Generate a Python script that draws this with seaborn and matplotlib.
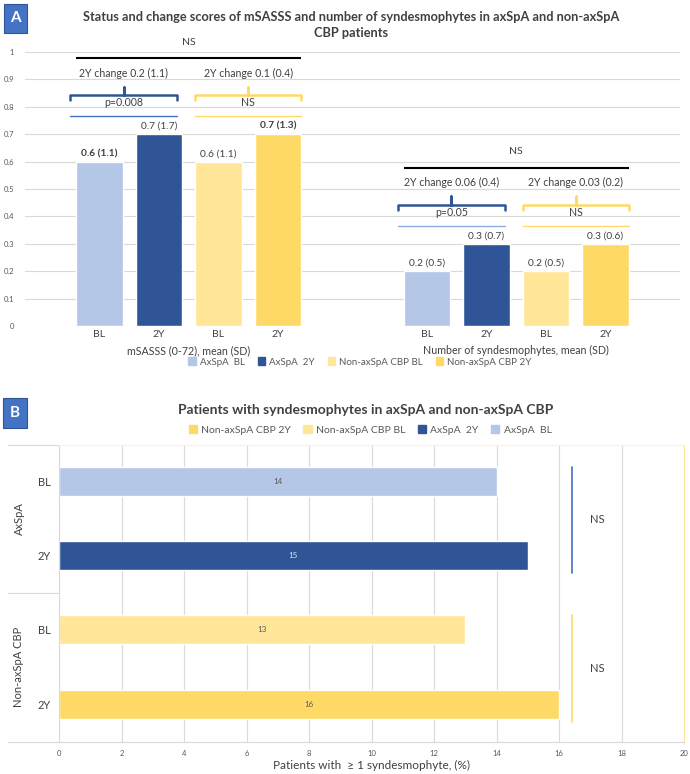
import numpy as np
import pandas as pd
import matplotlib
matplotlib.use("Agg")
import matplotlib.pyplot as plt
import matplotlib.transforms as mtransforms
from matplotlib.patches import Rectangle
from matplotlib.lines import Line2D
import seaborn as sns

# data
groups = ["AxSpA  BL", "AxSpA  2Y", "Non-axSpA CBP BL", "Non-axSpA CBP 2Y"]
colors = ["#B4C7E7", "#2F5597", "#FFE699", "#FFD966"]
tick_names = ["BL", "2Y", "BL", "2Y"]

measures = ["mSASSS (0-72), mean (SD)", "Number of syndesmophytes, mean (SD)"]
mean_msasss = [0.6, 0.7, 0.6, 0.7]
mean_synd = [0.2, 0.3, 0.2, 0.3]
labels_msasss = ["0.6 (1.1)", "0.7 (1.7)", "0.6 (1.1)", "0.7 (1.3)"]
labels_synd = ["0.2 (0.5)", "0.3 (0.7)", "0.2 (0.5)", "0.3 (0.6)"]
bold_msasss = [True, False, False, True]
bold_synd = [False, False, False, False]
change_msasss = ["2Y change 0.2 (1.1)", "2Y change 0.1 (0.4)"]
change_synd = ["2Y change 0.06 (0.4)", "2Y change 0.03 (0.2)"]
p_msasss = ["p=0.008", "NS"]
p_synd = ["p=0.05", "NS"]
overall_p = ["NS", "NS"]

pct_rows = ["AxSpA  BL", "AxSpA  2Y", "Non-axSpA CBP BL", "Non-axSpA CBP 2Y"]
pct_values = [14, 15, 13, 16]
pct_groups = ["AxSpA", "Non-axSpA CBP"]
pct_p = ["NS", "NS"]

W, H = 690, 774
TXT = "#404040"
GRID = "#D9D9D9"

sns.set_style("white")
plt.rcParams["font.family"] = ["Lato", "DejaVu Sans"]

fig = plt.figure(figsize=(W / 100, H / 100), dpi=100)


def fx(px):
    return px / W


def fy(py):
    return 1 - py / H


def badge(x0, y0, x1, y1, letter):
    fig.patches.append(Rectangle((fx(x0), fy(y1)), fx(x1 - x0), (y1 - y0) / H,
                                 transform=fig.transFigure, facecolor="#4472C4",
                                 edgecolor="#2F5597", lw=0.8))
    fig.text(fx((x0 + x1) / 2), fy((y0 + y1) / 2), letter, color="white",
             fontsize=11, fontweight="bold", ha="center", va="center")


# ---------------- panel A ----------------
df_a = pd.DataFrame({"measure": np.repeat(measures, 4),
                     "group": groups * 2,
                     "value": mean_msasss + mean_synd})

ax1 = fig.add_axes([fx(25), fy(326), fx(655), 274 / H])
sns.barplot(data=df_a, x="measure", y="value", hue="group", hue_order=groups,
            palette=colors, saturation=1, width=0.727, gap=0.22,
            errorbar=None, legend=False, ax=ax1)
ax1.set_ylim(0, 1)
ax1.set_xlim(-0.5, 1.5)
ax1.set_yticks(np.arange(0, 1.01, 0.1))
ax1.set_yticklabels(["0"] + [f"{v:.1f}" for v in np.arange(0.1, 0.95, 0.1)] + ["1"])
ax1.grid(axis="y", color=GRID, lw=0.8)
ax1.set_axisbelow(True)
for s in ax1.spines.values():
    s.set_visible(False)
ax1.tick_params(axis="y", length=0, labelsize=5.5, labelcolor="#595959", pad=8)
ax1.set_xlabel("")
ax1.set_ylabel("")

# bar centres per category / hue
centers = [[ax1.containers[h][c].get_x() + ax1.containers[h][c].get_width() / 2
            for h in range(4)] for c in range(2)]
bw = ax1.containers[0][0].get_width()
ax1.set_xticks([centers[c][h] for c in range(2) for h in range(4)])
ax1.set_xticklabels(tick_names * 2)
ax1.tick_params(axis="x", length=0, labelsize=7.5, labelcolor=TXT, pad=3)

for c in range(2):
    ax1.text(c, -0.09, measures[c], ha="center", va="center", fontsize=7.7,
             color=TXT, clip_on=False)

all_labels = [labels_msasss, labels_synd]
all_bold = [bold_msasss, bold_synd]
for h in range(4):
    texts = ax1.bar_label(ax1.containers[h],
                          labels=[all_labels[0][h], all_labels[1][h]],
                          padding=2.5, fontsize=7.3, color=TXT)
    for c, t in enumerate(texts):
        if all_bold[c][h]:
            t.set_fontweight("bold")

changes = [change_msasss, change_synd]
pvals = [p_msasss, p_synd]
tops = [max(mean_msasss), max(mean_synd)]
brace_cols = ["#2F5597", "#FFD966"]
thin_cols = [["#4472C4", "#FFD966"], ["#8FAADC", "#FFD966"]]
for c in range(2):
    top = tops[c]
    left_all = centers[c][0] - bw / 2
    right_all = centers[c][3] + bw / 2
    ax1.plot([left_all, right_all], [top + 0.278] * 2, color="black", lw=1.5,
             clip_on=False, solid_capstyle="butt")
    ax1.text((left_all + right_all) / 2, top + 0.336, overall_p[c],
             ha="center", va="center", fontsize=7.5, color=TXT, clip_on=False)
    for k in range(2):
        x0 = centers[c][2 * k] - bw / 2 - (0.018 if k == 0 else 0)
        x1 = centers[c][2 * k + 1] + bw / 2 - (0.015 if k == 0 else 0)
        xm = (x0 + x1) / 2
        yb = top + 0.143
        ax1.plot([x0, x0, xm, xm, xm, x1, x1],
                 [yb - 0.02, yb, yb, yb + 0.03, yb, yb, yb - 0.02],
                 color=brace_cols[k], lw=1.8, clip_on=False,
                 solid_joinstyle="round", solid_capstyle="round")
        ax1.text(xm, top + 0.223, changes[c][k], ha="center", va="center",
                 fontsize=7.6, color=TXT)
        ax1.text(xm, top + 0.114, pvals[c][k], ha="center", va="center",
                 fontsize=7.6, color=TXT)
        ax1.plot([x0, x1], [top + 0.066] * 2, color=thin_cols[c][k], lw=1)

fig.text(fx(351), fy(17),
         "Status and change scores of mSASSS and number of syndesmophytes in axSpA and non-axSpA",
         ha="center", va="center", fontsize=9.2, fontweight="bold", color=TXT)
fig.text(fx(351), fy(33), "CBP patients", ha="center", va="center",
         fontsize=9.2, fontweight="bold", color=TXT)

handles = [Rectangle((0, 0), 1, 1, color=col) for col in colors]
fig.legend(handles, groups, loc="center", bbox_to_anchor=(fx(360), fy(362)),
           ncol=4, frameon=False, fontsize=7, handlelength=0.8, handleheight=0.8,
           handletextpad=0.4, columnspacing=1.3, labelcolor="#595959")
badge(4, 4, 27, 33, "A")

# ---------------- panel B ----------------
df_b = pd.DataFrame({"row": pct_rows, "value": pct_values})
ax2 = fig.add_axes([fx(59), fy(742), fx(625), 297 / H])
sns.barplot(data=df_b, y="row", x="value", hue="row", hue_order=pct_rows,
            order=pct_rows, palette=colors, saturation=1, width=0.39,
            dodge=False, errorbar=None, legend=False, orient="h", ax=ax2)
ax2.set_xlim(0, 20)
ax2.set_ylim(3.51, -0.49)
ax2.set_xticks(np.arange(0, 21, 2))
ax2.grid(axis="x", color=GRID, lw=0.8)
ax2.set_axisbelow(True)
ax2.set_yticks(range(4))
ax2.set_yticklabels(tick_names)
ax2.tick_params(axis="y", length=0, labelsize=8, labelcolor=TXT, pad=6)
ax2.tick_params(axis="x", length=0, labelsize=5.5, labelcolor="#595959", pad=6)
ax2.set_ylabel("")
ax2.set_xlabel("Patients with  \u2265 1 syndesmophyte, (%)", fontsize=8.5,
               color=TXT, labelpad=2)
ax2.spines["left"].set_color(GRID)
ax2.spines["bottom"].set_color(GRID)
ax2.spines["top"].set_color("#FFF2CC")
ax2.spines["right"].set_color("#FFE699")
for s in ax2.spines.values():
    s.set_linewidth(0.8)

for i, cont in enumerate(ax2.containers):
    ax2.bar_label(cont, label_type="center", fontsize=5.8,
                  color="#DDE6F5" if colors[i] == "#2F5597" else "#595959")

# NS markers between BL and 2Y
xline = max(pct_values) + 0.4
ns_cols = ["#4472C4", "#FFD966"]
for g in range(2):
    ytop = 2 * g - 0.195
    ybot = 2 * g + 1 + 0.24
    ax2.plot([xline, xline], [ytop, ybot], color=ns_cols[g], lw=1.2)
    ax2.text(xline + 0.6, 2 * g + 0.52, pct_p[g], ha="left", va="center",
             fontsize=8, color=TXT)

trans = mtransforms.blended_transform_factory(fig.transFigure, ax2.transData)
for g in range(2):
    ax2.text(fx(19), 2 * g + 0.5, pct_groups[g], rotation=90, ha="center",
             va="center", fontsize=8, color=TXT, transform=trans)
for yv in [-0.49, 1.5, 3.51]:
    ax2.add_line(Line2D([fx(8), fx(59)], [yv, yv], transform=trans,
                        color=GRID, lw=0.8, clip_on=False))

fig.text(fx(366), fy(410), "Patients with syndesmophytes in axSpA and non-axSpA CBP",
         ha="center", va="center", fontsize=10, fontweight="bold", color=TXT)
order_b = [3, 2, 1, 0]
fig.legend([handles[i] for i in order_b], [groups[i] for i in order_b], loc="center",
           bbox_to_anchor=(fx(370), fy(430)), ncol=4, frameon=False, fontsize=7.5,
           handlelength=0.8, handleheight=0.8, handletextpad=0.4,
           columnspacing=1.2, labelcolor="#595959")
badge(3, 398, 27, 428, "B")

fig.savefig("out.png", dpi=100, facecolor="white")
